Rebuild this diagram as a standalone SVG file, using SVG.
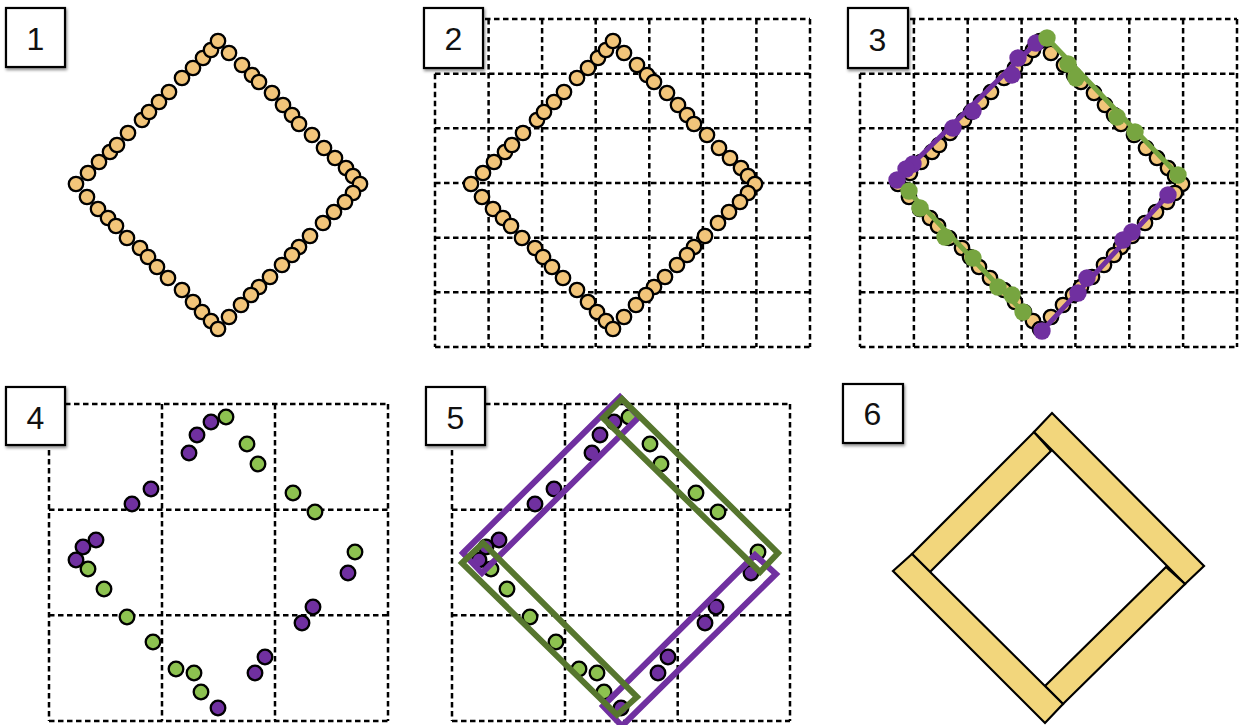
<svg xmlns="http://www.w3.org/2000/svg" xmlns:xlink="http://www.w3.org/1999/xlink" width="1239" height="725" viewBox="0 0 1239 725">
<defs>
<filter id="sh" x="-20%" y="-20%" width="150%" height="150%">
<feDropShadow dx="1" dy="2" stdDeviation="1.5" flood-color="#000" flood-opacity="0.45"/>
</filter>
<style>
.lbl{fill:#fff;stroke:#000;stroke-width:2.2;filter:url(#sh)}
.num{font-family:"Liberation Sans",Arial,sans-serif;font-size:32px;fill:#111;text-anchor:middle}
.grid{fill:none;stroke:#000;stroke-width:2.5;stroke-dasharray:5.5 3.5}
.or{fill:#F2C57A;stroke:#000;stroke-width:2.3}
.pu{fill:#7030A0;stroke:#000;stroke-width:2.3}
.gr{fill:#8DC250;stroke:#000;stroke-width:2.3}
.pu3{fill:#7030A0}
.gr3{fill:#77A540}
.pl3{stroke:#7030A0;stroke-width:5;fill:none}
.gl3{stroke:#77A540;stroke-width:5;fill:none}
.prect{fill:none;stroke:#7030A0;stroke-width:6}
.grect{fill:none;stroke:#56762E;stroke-width:6}
.plank{fill:#F2D67C;stroke:#000;stroke-width:2.2;stroke-linejoin:miter}
</style>
<g id="ring">
<circle class="or" cx="76" cy="184" r="7.2"/>
<circle class="or" cx="88" cy="173" r="7.2"/>
<circle class="or" cx="99" cy="162" r="7.2"/>
<circle class="or" cx="110" cy="152" r="7.2"/>
<circle class="or" cx="117" cy="145" r="7.2"/>
<circle class="or" cx="128" cy="133" r="7.2"/>
<circle class="or" cx="142" cy="120" r="7.2"/>
<circle class="or" cx="149" cy="112" r="7.2"/>
<circle class="or" cx="159" cy="102" r="7.2"/>
<circle class="or" cx="169" cy="92" r="7.2"/>
<circle class="or" cx="182" cy="78" r="7.2"/>
<circle class="or" cx="193" cy="68" r="7.2"/>
<circle class="or" cx="203" cy="58" r="7.2"/>
<circle class="or" cx="211" cy="50" r="7.2"/>
<circle class="or" cx="218" cy="41" r="7.2"/>
<circle class="or" cx="229" cy="53" r="7.2"/>
<circle class="or" cx="242" cy="65" r="7.2"/>
<circle class="or" cx="252" cy="75" r="7.2"/>
<circle class="or" cx="259" cy="82" r="7.2"/>
<circle class="or" cx="272" cy="93" r="7.2"/>
<circle class="or" cx="283" cy="105" r="7.2"/>
<circle class="or" cx="292" cy="115" r="7.2"/>
<circle class="or" cx="299" cy="124" r="7.2"/>
<circle class="or" cx="312" cy="135" r="7.2"/>
<circle class="or" cx="324" cy="148" r="7.2"/>
<circle class="or" cx="335" cy="158" r="7.2"/>
<circle class="or" cx="346" cy="168" r="7.2"/>
<circle class="or" cx="353" cy="176" r="7.2"/>
<circle class="or" cx="360" cy="184" r="7.2"/>
<circle class="or" cx="353" cy="193" r="7.2"/>
<circle class="or" cx="345" cy="202" r="7.2"/>
<circle class="or" cx="334" cy="212" r="7.2"/>
<circle class="or" cx="323" cy="223" r="7.2"/>
<circle class="or" cx="310" cy="236" r="7.2"/>
<circle class="or" cx="299" cy="247" r="7.2"/>
<circle class="or" cx="292" cy="255" r="7.2"/>
<circle class="or" cx="282" cy="265" r="7.2"/>
<circle class="or" cx="270" cy="277" r="7.2"/>
<circle class="or" cx="259" cy="287" r="7.2"/>
<circle class="or" cx="251" cy="295" r="7.2"/>
<circle class="or" cx="241" cy="305" r="7.2"/>
<circle class="or" cx="229" cy="317" r="7.2"/>
<circle class="or" cx="87" cy="197" r="7.2"/>
<circle class="or" cx="98" cy="209" r="7.2"/>
<circle class="or" cx="108" cy="218" r="7.2"/>
<circle class="or" cx="116" cy="226" r="7.2"/>
<circle class="or" cx="127" cy="238" r="7.2"/>
<circle class="or" cx="140" cy="248" r="7.2"/>
<circle class="or" cx="148" cy="257" r="7.2"/>
<circle class="or" cx="157" cy="267" r="7.2"/>
<circle class="or" cx="168" cy="278" r="7.2"/>
<circle class="or" cx="182" cy="290" r="7.2"/>
<circle class="or" cx="193" cy="302" r="7.2"/>
<circle class="or" cx="202" cy="312" r="7.2"/>
<circle class="or" cx="211" cy="321" r="7.2"/>
<circle class="or" cx="218" cy="329" r="7.2"/>
</g>
<g id="dots">
<circle class="pu" cx="189" cy="453" r="7.3"/>
<circle class="pu" cx="197" cy="435" r="7.3"/>
<circle class="pu" cx="211" cy="422" r="7.3"/>
<circle class="pu" cx="151" cy="489" r="7.3"/>
<circle class="pu" cx="132" cy="504" r="7.3"/>
<circle class="pu" cx="96" cy="540" r="7.3"/>
<circle class="pu" cx="83" cy="547" r="7.3"/>
<circle class="pu" cx="76" cy="560" r="7.3"/>
<circle class="pu" cx="348" cy="573" r="7.3"/>
<circle class="pu" cx="313" cy="607" r="7.3"/>
<circle class="pu" cx="302" cy="623" r="7.3"/>
<circle class="pu" cx="265" cy="657" r="7.3"/>
<circle class="pu" cx="255" cy="673" r="7.3"/>
<circle class="pu" cx="218" cy="708" r="7.3"/>
<circle class="gr" cx="226" cy="417" r="7.3"/>
<circle class="gr" cx="247" cy="444" r="7.3"/>
<circle class="gr" cx="258" cy="464" r="7.3"/>
<circle class="gr" cx="293" cy="493" r="7.3"/>
<circle class="gr" cx="315" cy="512" r="7.3"/>
<circle class="gr" cx="355" cy="552" r="7.3"/>
<circle class="gr" cx="88" cy="569" r="7.3"/>
<circle class="gr" cx="104" cy="589" r="7.3"/>
<circle class="gr" cx="127" cy="617" r="7.3"/>
<circle class="gr" cx="153" cy="642" r="7.3"/>
<circle class="gr" cx="176" cy="669" r="7.3"/>
<circle class="gr" cx="194" cy="673" r="7.3"/>
<circle class="gr" cx="201" cy="692" r="7.3"/>
</g>
</defs>
<rect width="1239" height="725" fill="#fff"/>

<g id="panel1">
<use xlink:href="#ring" href="#ring"/>
<rect class="lbl" x="6" y="8" width="59" height="59"/>
<text class="num" x="35.5" y="50">1</text>
</g>

<g id="panel2">
<path class="grid" d="M485 19H810M435 73.7H810M435 128.3H810M435 183H810M435 237.7H810M435 292.3H810M435 347H810M435 73.7V347M488.6 19V347M542.1 19V347M595.7 19V347M649.3 19V347M702.9 19V347M756.4 19V347M810 19V347"/>
<use xlink:href="#ring" href="#ring" transform="translate(395,0)"/>
<rect class="lbl" x="424" y="8" width="59" height="60"/>
<text class="num" x="453.5" y="50">2</text>
</g>

<g id="panel3">
<path class="grid" d="M910 19H1237M860 73.7H1237M860 128.3H1237M860 183H1237M860 237.7H1237M860 292.3H1237M860 347H1237M860 73.7V347M913.9 19V347M967.7 19V347M1021.6 19V347M1075.4 19V347M1129.3 19V347M1183.1 19V347M1237 19V347"/>
<use xlink:href="#ring" href="#ring" transform="translate(822,0)"/>
<path class="pl3" d="M1036 43L896 180M1168 195L1042 331"/>
<circle class="pu3" cx="1036" cy="43" r="8.7"/>
<circle class="pu3" cx="1018" cy="58" r="8.7"/>
<circle class="pu3" cx="1012" cy="75" r="8.7"/>
<circle class="pu3" cx="973" cy="111" r="8.7"/>
<circle class="pu3" cx="953" cy="128" r="8.7"/>
<circle class="pu3" cx="913" cy="164" r="8.7"/>
<circle class="pu3" cx="906" cy="169" r="8.7"/>
<circle class="pu3" cx="897" cy="180" r="8.7"/>
<circle class="pu3" cx="1168" cy="195" r="8.7"/>
<circle class="pu3" cx="1132" cy="232" r="8.7"/>
<circle class="pu3" cx="1123" cy="240" r="8.7"/>
<circle class="pu3" cx="1087" cy="278" r="8.7"/>
<circle class="pu3" cx="1078" cy="293" r="8.7"/>
<circle class="pu3" cx="1042" cy="331" r="8.7"/>
<path class="gl3" d="M1047 38L1178 175M908 191L1023 312"/>
<circle class="gr3" cx="1047" cy="38" r="8.7"/>
<circle class="gr3" cx="1068" cy="64" r="8.7"/>
<circle class="gr3" cx="1076" cy="78" r="8.7"/>
<circle class="gr3" cx="1117" cy="117" r="8.7"/>
<circle class="gr3" cx="1135" cy="132" r="8.7"/>
<circle class="gr3" cx="1178" cy="175" r="8.7"/>
<circle class="gr3" cx="909" cy="191" r="8.7"/>
<circle class="gr3" cx="920" cy="208" r="8.7"/>
<circle class="gr3" cx="945" cy="237" r="8.7"/>
<circle class="gr3" cx="973" cy="258" r="8.7"/>
<circle class="gr3" cx="998" cy="287" r="8.7"/>
<circle class="gr3" cx="1012" cy="295" r="8.7"/>
<circle class="gr3" cx="1023" cy="312" r="8.7"/>
<rect class="lbl" x="848" y="8" width="60" height="60"/>
<text class="num" x="877.5" y="51">3</text>
</g>

<g id="panel4">
<path class="grid" d="M65 404H388M49 509.7H388M49 615.3H388M49 721H388M49 450V721M162 404V721M275 404V721M388 404V721"/>
<use xlink:href="#dots" href="#dots"/>
<rect class="lbl" x="6" y="387" width="59" height="58"/>
<text class="num" x="35.5" y="429">4</text>
</g>

<g id="panel5">
<path class="grid" d="M485 404H790M452 509.7H790M452 615.3H790M452 721H790M452 450V721M565 404V721M677.7 404V721M790 404V721"/>
<use xlink:href="#dots" href="#dots" transform="translate(403,0)"/>
<polygon class="prect" points="463,553 620,397 639,417 482,573"/>
<polygon class="prect" points="755,555 776,574 622,726 603,706"/>
<polygon class="grect" points="603,418 622,399 778,553 760,572"/>
<polygon class="grect" points="462,563 483,543 637,697 617,715"/>
<rect class="lbl" x="426" y="387" width="59" height="58"/>
<text class="num" x="455.5" y="429">5</text>
</g>

<g id="panel6">
<polygon class="plank" points="912,554 1034,432 1051,451 930,572"/>
<polygon class="plank" points="1034,432 1052,413 1204,566 1185,584"/>
<polygon class="plank" points="1166,567 1185,584 1063,704 1045,686"/>
<polygon class="plank" points="893,571 912,554 1063,704 1045,723"/>
<rect class="lbl" x="843" y="384" width="60" height="59"/>
<text class="num" x="872.5" y="425">6</text>
</g>
</svg>
